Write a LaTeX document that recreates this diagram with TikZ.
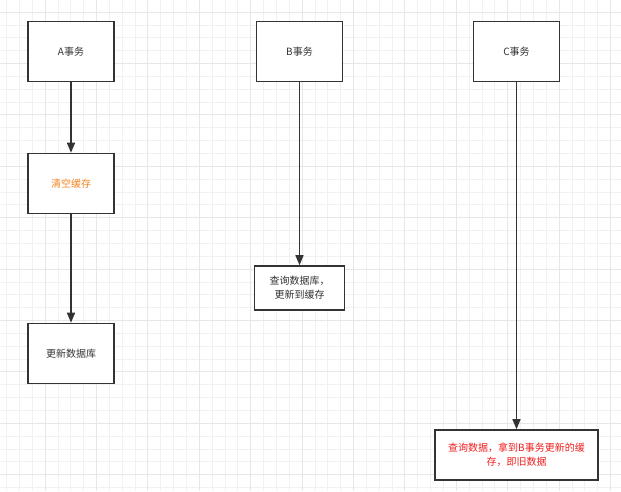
\documentclass[tikz,border=0pt]{standalone}
\usepackage{fontspec}
\newfontfamily\cjk{Noto Sans CJK SC}
\usetikzlibrary{arrows.meta}
\definecolor{gridminor}{HTML}{F1F1F1}
\definecolor{gridmajor}{HTML}{E7E7E7}
\definecolor{txtgray}{HTML}{333333}
\definecolor{txtorange}{HTML}{F5821F}
\definecolor{txtred}{HTML}{F01E1E}
\begin{document}
\begin{tikzpicture}[x=1pt,y=-1pt,
  box/.style={draw=txtgray, line width=1.6pt, fill=white, inner sep=0pt,
    font=\cjk\fontsize{10}{14}\selectfont, text=txtgray, align=center,
    minimum width=86pt, minimum height=60pt},
  arr/.style={draw=txtgray, line width=1.4pt, -{Triangle[length=10pt,width=8pt]}},
  gminor/.style={draw=gridminor, line width=0.7pt},
  gmajor/.style={draw=gridmajor, line width=0.8pt}]
\useasboundingbox (0,0) rectangle (621,491);
\fill[white] (0,0) rectangle (621,491);
% grid
\foreach \i in {0,...,48} {
  \draw[gminor] ({6.45+12.85*\i},0) -- ({6.45+12.85*\i},491);
}
\foreach \i in {0,...,38} {
  \draw[gminor] (0,{12+12.85*\i}) -- (621,{12+12.85*\i});
}
\foreach \i in {0,...,11} {
  \draw[gmajor] ({45+51.4*\i},0) -- ({45+51.4*\i},491);
}
\foreach \i in {0,...,9} {
  \draw[gmajor] (0,{12+51.4*\i}) -- (621,{12+51.4*\i});
}
% nodes
\node[box] (A) at (71,51.5) {A事务};
\node[box, text=txtorange] (clr) at (71,183.5) {清空缓存};
\node[box] (upd) at (71,353.5) {更新数据库};
\node[box] (B) at (299.5,51.5) {B事务};
\node[box, minimum width=90pt, minimum height=44pt] (Bq) at (299.5,288) {查询数据库，\\ 更新到缓存};
\node[box] (C) at (516.5,51.5) {C事务};
\node[box, text=txtred, minimum width=163pt, minimum height=50pt] (Cq) at (516.5,455) {查询数据，拿到B事务更新的缓\\存，即旧数据};
% connectors
\draw[arr] (A) -- (clr);
\draw[arr] (clr) -- (upd);
\draw[arr] (B) -- (Bq);
\draw[arr] (C) -- (Cq);
\end{tikzpicture}
\end{document}
